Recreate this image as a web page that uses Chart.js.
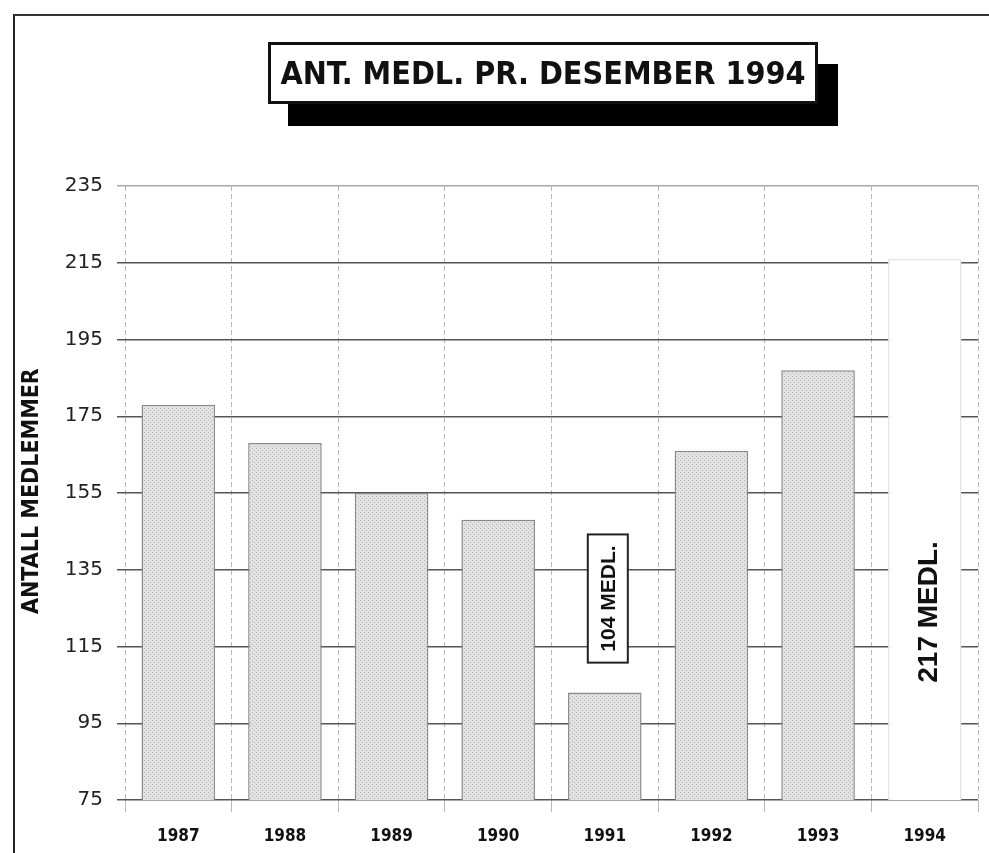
<!DOCTYPE html>
<html>
<head>
<meta charset="utf-8">
<script src="https://cdn.jsdelivr.net/npm/chart.js@4/dist/chart.umd.min.js"></script>
<style>
  html, body { margin: 0; padding: 0; background: #fff; }
  #wrap { position: relative; width: 989px; height: 853px; overflow: hidden; }
  #frame { position: absolute; left: 13px; top: 14px; width: 990px; height: 900px;
           border-top: 2px solid #333; border-left: 2px solid #222; }
  #title { position: absolute; left: 268px; top: 42px; width: 544px; height: 56px;
           border: 3px solid #111; background: #fff; box-shadow: 20px 22px 0 #000;
           font: bold 32px "Liberation Sans Narrow", "DejaVu Sans Condensed", Arial, sans-serif;
           color: #111; text-align: center; line-height: 56px; z-index: 2; }
  canvas { position: absolute; left: 0; top: 0; }
</style>
</head>
<body>
<div id="wrap">
  <div id="frame"></div>
  <canvas id="chart" width="989" height="853"></canvas>
  <div id="title">ANT. MEDL. PR. DESEMBER 1994</div>
</div>
<script>
// data
const years = ['1987', '1988', '1989', '1990', '1991', '1992', '1993', '1994'];
const members = [178, 168, 155, 148, 103, 166, 187, 216];
const yTicks = [75, 95, 115, 135, 155, 175, 195, 215, 235];
const axisTitle = 'ANTALL MEDLEMMER';
// annotations: bar index, text, value at label centre
const notes = [
  { index: 4, text: '104 MEDL.', at: 127.5, boxed: true },
  { index: 7, text: '217 MEDL.', at: 124, boxed: false }
];

// dotted grey fill like the scanned print
function dotPattern() {
  const c = document.createElement('canvas');
  c.width = 4; c.height = 4;
  const g = c.getContext('2d');
  g.fillStyle = '#e2e2e2';
  g.fillRect(0, 0, 4, 4);
  g.fillStyle = '#b4b4b4';
  g.fillRect(0, 0, 1, 1);
  g.fillRect(2, 2, 1, 1);
  return g.createPattern(c, 'repeat');
}
const dots = dotPattern();

const notesPlugin = {
  id: 'notes',
  afterDraw(chart) {
    const ctx = chart.ctx;
    const meta = chart.getDatasetMeta(0);
    const y = chart.scales.y;
    // y axis title
    ctx.save();
    ctx.translate(32, y.getPixelForValue(155.5));
    ctx.rotate(-Math.PI / 2);
    ctx.font = 'bold 23px "DejaVu Sans Condensed", "Liberation Sans", Arial, sans-serif';
    ctx.fillStyle = '#111';
    ctx.textAlign = 'center';
    ctx.textBaseline = 'middle';
    ctx.fillText(axisTitle, 0, 0);
    ctx.restore();

    for (const n of notes) {
      const bar = meta.data[n.index];
      const cy = y.getPixelForValue(n.at);
      ctx.save();
      ctx.translate(bar.x + (n.boxed ? 3 : 4), cy);
      ctx.rotate(-Math.PI / 2);
      ctx.font = n.boxed ? 'bold 21px "Liberation Sans", Arial, sans-serif'
                         : 'bold 28px "Liberation Sans", Arial, sans-serif';
      ctx.textAlign = 'center';
      ctx.textBaseline = 'middle';
      if (n.boxed) {
        const w = ctx.measureText(n.text).width + 22;
        ctx.fillStyle = '#fff';
        ctx.fillRect(-w / 2, -20, w, 40);
        ctx.lineWidth = 2;
        ctx.strokeStyle = '#222';
        ctx.strokeRect(-w / 2, -20, w, 40);
      }
      ctx.fillStyle = '#111';
      ctx.fillText(n.text, 0, 1);
      ctx.restore();
    }
  }
};

new Chart(document.getElementById('chart'), {
  type: 'bar',
  data: {
    labels: years,
    datasets: [{
      data: members,
      backgroundColor: members.map((v, i) => i === 7 ? '#ffffff' : dots),
      borderColor: members.map((v, i) => i === 7 ? '#e4e4e4' : '#8a8a8a'),
      borderWidth: 1.5,
      borderSkipped: 'bottom',
      barPercentage: 0.69,
      categoryPercentage: 1
    }]
  },
  options: {
    responsive: false,
    animation: false,
    layout: { padding: { left: 0, top: 186, right: 11, bottom: 0 } },
    plugins: {
      legend: { display: false },
      tooltip: { enabled: false },
      title: { display: false }
    },
    scales: {
      x: {
        afterFit(s) { s.height = 53; },
        grid: {
          offset: true,
          color: '#b8b8b8',
          lineWidth: 1,
          tickLength: 12
        },
        border: { display: false, dash: [5, 3] },
        ticks: {
          color: '#111',
          padding: 14,
          font: { family: '"DejaVu Sans Condensed", Arial, sans-serif', size: 17, weight: 'bold' }
        }
      },
      y: {
        min: 75,
        max: 235,
        afterFit(s) { s.width = 125; },
        afterBuildTicks(s) { s.ticks = yTicks.map(v => ({ value: v })); },
        grid: {
          color: ctx => ctx.tick && ctx.tick.value === 235 ? '#aaaaaa' : '#555555',
          lineWidth: 1.5,
          tickLength: 8
        },
        border: { display: false },
        ticks: {
          color: '#222',
          padding: 14,
          font: { family: '"DejaVu Sans", Verdana, sans-serif', size: 20 }
        }
      }
    }
  },
  plugins: [notesPlugin]
});
</script>
</body>
</html>
